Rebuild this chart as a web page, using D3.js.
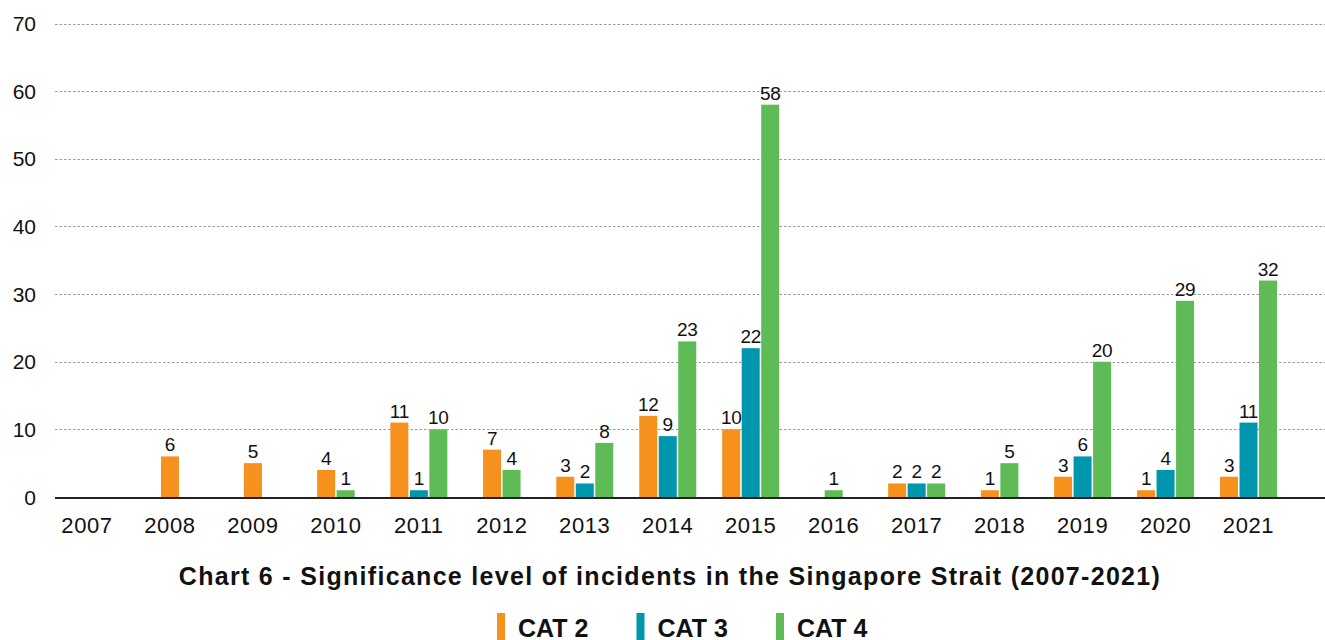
<!DOCTYPE html>
<html>
<head>
<meta charset="utf-8">
<script src="https://cdn.jsdelivr.net/npm/d3@7"></script>
<style>
  body { margin: 0; background: #fff; }
  text { font-family: "Liberation Sans", Arial, Helvetica, sans-serif; fill: #111; }
</style>
</head>
<body>
<div id="chart"></div>
<script>
// data
const years = ["2007", "2008", "2009", "2010", "2011", "2012", "2013", "2014",
               "2015", "2016", "2017", "2018", "2019", "2020", "2021"];
const seriesNames = ["CAT 2", "CAT 3", "CAT 4"];
const cat2 = [null, 6, 5, 4, 11, 7, 3, 12, 10, null, 2, 1, 3, 1, 3];
const cat3 = [null, null, null, null, 1, null, 2, 9, 22, null, 2, null, 6, 4, 11];
const cat4 = [null, null, null, 1, 10, 4, 8, 23, 58, 1, 2, 5, 20, 29, 32];
const yTicks = [0, 10, 20, 30, 40, 50, 60, 70];
const colors = ["#F7911E", "#0097AE", "#5EBB56"];
const titleText = "Chart 6 - Significance level of incidents in the Singapore Strait (2007-2021)";

const width = 1325, height = 640;
const margin = { top: 23, left: 55, bottom: 143 }; // plot bottom at y=497

const svg = d3.select("#chart").append("svg")
    .attr("width", width)
    .attr("height", height);

const x = d3.scaleBand()
    .domain(years)
    .range([45.5, 1290])
    .padding(0);

const y = d3.scaleLinear()
    .domain([0, 70])
    .range([height - margin.bottom, margin.top + 0.5]);

// gridlines
svg.selectAll(".grid")
    .data(yTicks.filter(d => d > 0))
    .enter()
    .append("line")
    .attr("class", "grid")
    .attr("x1", margin.left)
    .attr("x2", width)
    .attr("y1", d => Math.round(y(d)) + 0.5)
    .attr("y2", d => Math.round(y(d)) + 0.5)
    .attr("stroke", "#9a9a9a")
    .attr("stroke-width", 1)
    .attr("stroke-dasharray", "2.5,2");

// y labels
svg.selectAll(".y-label")
    .data(yTicks)
    .enter()
    .append("text")
    .attr("class", "y-label")
    .attr("x", 36)
    .attr("y", d => y(d))
    .attr("dy", "0.36em")
    .attr("text-anchor", "end")
    .style("font-size", "21px")
    .text(d => d);

// bars: only present values, packed and centred in each year
const barW = 18, barStep = 19.5;
const barData = [];
years.forEach((yr, i) => {
    const vals = [cat2[i], cat3[i], cat4[i]]
        .map((v, s) => ({ year: yr, series: s, value: v }))
        .filter(d => d.value !== null);
    const center = x(yr) + x.bandwidth() / 2;
    const start = center - (vals.length * barStep - (barStep - barW)) / 2;
    vals.forEach((d, k) => {
        d.x = start + k * barStep;
        barData.push(d);
    });
});

svg.selectAll(".bar")
    .data(barData)
    .enter()
    .append("rect")
    .attr("class", "bar")
    .attr("x", d => d.x)
    .attr("width", barW)
    .attr("y", d => y(d.value))
    .attr("height", d => y(0) - y(d.value))
    .attr("fill", d => colors[d.series]);

svg.selectAll(".value-label")
    .data(barData)
    .enter()
    .append("text")
    .attr("class", "value-label")
    .attr("x", d => d.x + barW / 2)
    .attr("y", d => y(d.value) - 5)
    .attr("text-anchor", "middle")
    .style("font-size", "19px")
    .style("letter-spacing", "-0.3px")
    .text(d => d.value);

// baseline
svg.append("line")
    .attr("x1", margin.left)
    .attr("x2", width)
    .attr("y1", y(0) + 1)
    .attr("y2", y(0) + 1)
    .attr("stroke", "#222")
    .attr("stroke-width", 2);

// x labels
svg.selectAll(".x-label")
    .data(years)
    .enter()
    .append("text")
    .attr("class", "x-label")
    .attr("x", d => x(d) + x.bandwidth() / 2)
    .attr("y", 533)
    .attr("text-anchor", "middle")
    .style("font-size", "22px")
    .style("letter-spacing", "0.6px")
    .text(d => d);

// title
svg.append("text")
    .attr("x", 670)
    .attr("y", 585)
    .attr("text-anchor", "middle")
    .style("font-size", "25px")
    .style("font-weight", "bold")
    .style("letter-spacing", "1.3px")
    .text(titleText);

// legend
const legend = svg.selectAll(".legend")
    .data(seriesNames)
    .enter()
    .append("g")
    .attr("class", "legend")
    .attr("transform", (d, i) => `translate(${497 + i * 139.5},613)`);

legend.append("rect")
    .attr("width", 8)
    .attr("height", 27)
    .attr("fill", (d, i) => colors[i]);

legend.append("text")
    .attr("x", 21)
    .attr("y", 23.5)
    .style("font-size", "25px")
    .style("font-weight", "bold")
    .text(d => d);
</script>
</body>
</html>
